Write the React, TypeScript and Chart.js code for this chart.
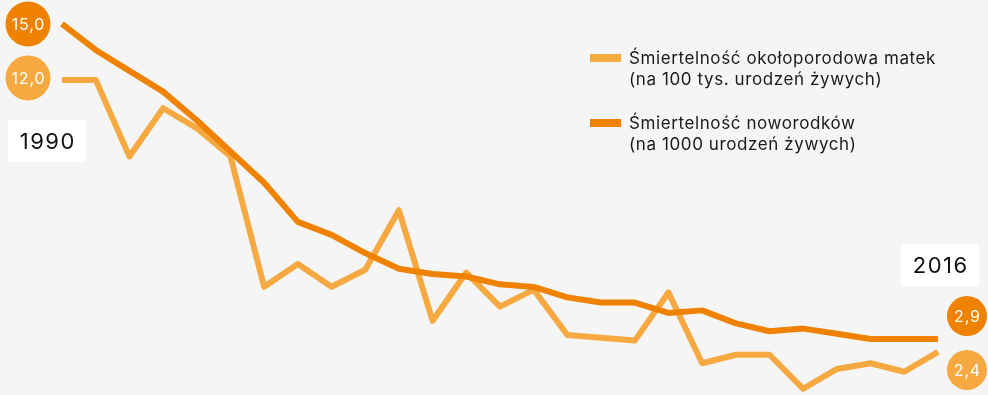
import React, { useEffect, useRef } from "react";
import { Chart, registerables } from "chart.js";

Chart.register(...registerables);

const years: string[] = [
  "1990", "1991", "1992", "1993", "1994", "1995", "1996", "1997", "1998", "1999",
  "2000", "2001", "2002", "2003", "2004", "2005", "2006", "2007", "2008", "2009",
  "2010", "2011", "2012", "2013", "2014", "2015", "2016",
];

// Śmiertelność noworodków (na 1000 urodzeń żywych)
const neonatal: number[] = [
  15.0, 14.0, 13.2, 12.4, 11.3, 10.1, 8.9, 7.4, 6.9, 6.2,
  5.6, 5.4, 5.3, 5.0, 4.9, 4.5, 4.3, 4.3, 3.9, 4.0,
  3.5, 3.2, 3.3, 3.1, 2.9, 2.9, 2.9,
];

// Śmiertelność okołoporodowa matek (na 100 tys. urodzeń żywych)
const maternal: number[] = [
  12.0, 12.0, 9.3, 11.0, 10.3, 9.3, 4.7, 5.5, 4.7, 5.3,
  7.4, 3.5, 5.2, 4.0, 4.6, 3.0, 2.9, 2.8, 4.5, 2.0,
  2.3, 2.3, 1.1, 1.8, 2.0, 1.7, 2.4,
];

const legendMaternal: string[] = ["Śmiertelność okołoporodowa matek", "(na 100 tys. urodzeń żywych)"];
const legendNeonatal: string[] = ["Śmiertelność noworodków", "(na 1000 urodzeń żywych)"];

const DARK = "#EF8200";
const LIGHT = "#F7A941";
const BG = "#F5F5F5";
const FONT = "Inter, 'Noto Sans', sans-serif";

const fmt = (v: number) => v.toFixed(1).replace(".", ",");

const annotPlugin = {
  id: "annot",
  afterDatasetsDraw(chart: any) {
    const ctx: any = chart.ctx;
    const xs = chart.scales.x;
    const yo = chart.scales.y;
    const yl = chart.scales.y2;
    const n = years.length - 1;
    const x0 = xs.getPixelForValue(0);
    const xn = xs.getPixelForValue(n);

    const circle = (cx: number, cy: number, r: number, color: string, text: string) => {
      ctx.save();
      ctx.beginPath();
      ctx.arc(cx, cy, r, 0, Math.PI * 2);
      ctx.fillStyle = color;
      ctx.fill();
      ctx.fillStyle = "#FFFFFF";
      ctx.font = `16px ${FONT}`;
      ctx.letterSpacing = "0.8px";
      ctx.textAlign = "center";
      ctx.textBaseline = "middle";
      ctx.fillText(text, cx + 0.4, cy + 1);
      ctx.restore();
    };

    // left value circles
    circle(x0 - 34, yo.getPixelForValue(neonatal[0]), 22.5, DARK, fmt(neonatal[0]));
    circle(x0 - 34, yl.getPixelForValue(maternal[0]) - 2, 22.5, LIGHT, fmt(maternal[0]));
    // right value circles
    circle(xn + 29, yo.getPixelForValue(neonatal[n]) - 23, 20, DARK, fmt(neonatal[n]));
    circle(xn + 29, yl.getPixelForValue(maternal[n]) + 18, 20, LIGHT, fmt(maternal[n]));

    // year boxes
    const yearBox = (x: number, y: number, text: string) => {
      ctx.save();
      ctx.fillStyle = "#FFFFFF";
      ctx.fillRect(x, y, 78, 42);
      ctx.fillStyle = "#111111";
      ctx.font = `22px ${FONT}`;
      ctx.letterSpacing = "1.5px";
      ctx.textAlign = "center";
      ctx.textBaseline = "middle";
      ctx.fillText(text, x + 39.75, y + 22);
      ctx.restore();
    };
    yearBox(8, 120, years[0]);
    yearBox(901, 244, years[n]);

    // legend
    const legendItem = (y: number, color: string, lines: string[]) => {
      ctx.save();
      ctx.fillStyle = color;
      ctx.fillRect(590, y - 4, 31, 8);
      ctx.fillStyle = "#1A1A1A";
      ctx.font = `17px ${FONT}`;
      ctx.letterSpacing = "0.6px";
      ctx.textAlign = "left";
      ctx.textBaseline = "alphabetic";
      lines.forEach((l, i) => ctx.fillText(l, 629, y + 6 + i * 21));
      ctx.restore();
    };
    legendItem(58, LIGHT, legendMaternal);
    legendItem(123, DARK, legendNeonatal);
  },
};

export default function App() {
  const ref = useRef<HTMLCanvasElement | null>(null);

  useEffect(() => {
    if (!ref.current) return;
    const chart = new Chart(ref.current, {
      type: "line",
      data: {
        labels: years,
        datasets: [
          {
            label: legendNeonatal.join(" "),
            data: neonatal,
            borderColor: DARK,
            backgroundColor: DARK,
            borderWidth: 6,
            pointRadius: 0,
            tension: 0,
            borderJoinStyle: "round",
            borderCapStyle: "butt",
            yAxisID: "y",
            clip: false,
          },
          {
            label: legendMaternal.join(" "),
            data: maternal,
            borderColor: LIGHT,
            backgroundColor: LIGHT,
            borderWidth: 6,
            pointRadius: 0,
            tension: 0,
            borderJoinStyle: "round",
            borderCapStyle: "butt",
            yAxisID: "y2",
            clip: false,
          },
        ],
      },
      options: {
        responsive: false,
        animation: false,
        layout: { padding: { left: 62, right: 50, top: 0, bottom: 0 } },
        plugins: { legend: { display: false }, tooltip: { enabled: false } },
        scales: {
          x: { display: false, offset: false },
          y: { display: false, min: 0.75, max: 15.92 },
          y2: { display: false, min: 0.88, max: 14.82, position: "right" },
        },
      },
      plugins: [annotPlugin],
    });
    return () => chart.destroy();
  }, []);

  return (
    <div
      style={{
        position: "fixed",
        left: 0,
        top: 0,
        width: 988,
        height: 395,
        background: BG,
        overflow: "hidden",
      }}
    >
      <canvas ref={ref} width={988} height={395} style={{ display: "block", width: 988, height: 395 }} />
    </div>
  );
}
